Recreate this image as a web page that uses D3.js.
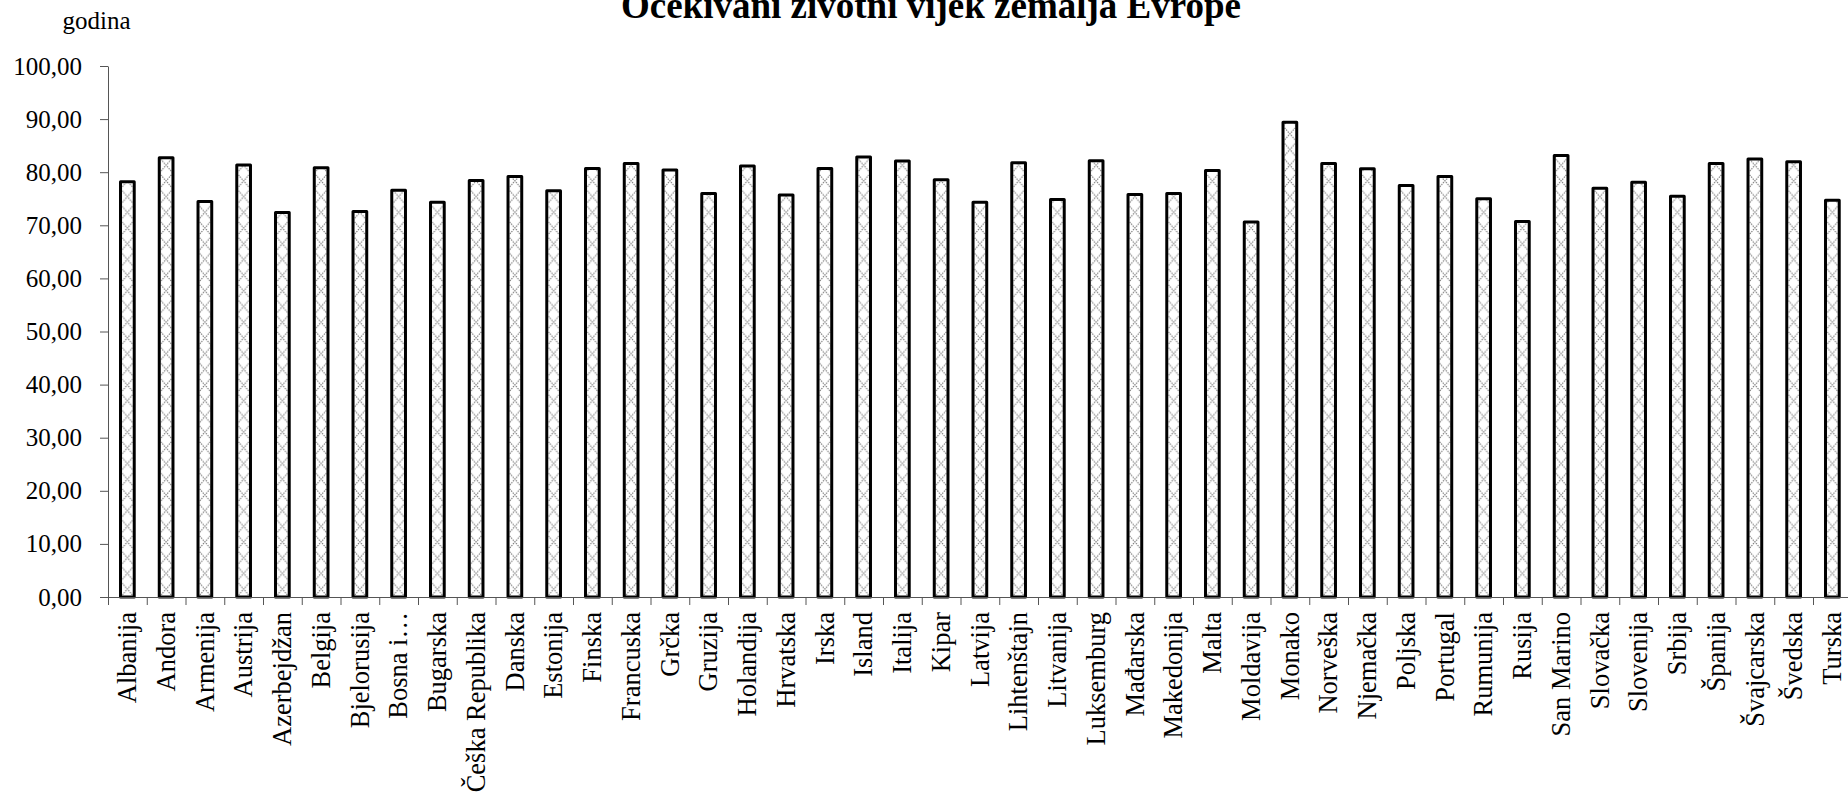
<!DOCTYPE html>
<html>
<head>
<meta charset="utf-8">
<script src="https://cdn.jsdelivr.net/npm/d3@7/dist/d3.min.js"></script>
<style>
  html, body { margin: 0; padding: 0; background: #fff; overflow: hidden; }
  svg { display: block; }
  svg text { font-family: "Liberation Serif", "Times New Roman", serif !important; fill: #000; }
</style>
</head>
<body>
<svg id="chart" width="1848" height="796" font-family="Liberation Serif, serif"></svg>
<script>
const categories = ["Albanija","Andora","Armenija","Austrija","Azerbejdžan","Belgija","Bjelorusija","Bosna i…","Bugarska","Češka Republika","Danska","Estonija","Finska","Francuska","Grčka","Gruzija","Holandija","Hrvatska","Irska","Island","Italija","Kipar","Latvija","Lihtenštajn","Litvanija","Luksemburg","Mađarska","Makedonija","Malta","Moldavija","Monako","Norveška","Njemačka","Poljska","Portugal","Rumunija","Rusija","San Marino","Slovačka","Slovenija","Srbija","Španija","Švajcarska","Švedska","Turska"];
const values = [78.2,82.7,74.5,81.35,72.4,80.85,72.6,76.6,74.35,78.45,79.2,76.5,80.7,81.65,80.4,76.0,81.15,75.7,80.7,82.85,82.1,78.6,74.35,81.8,74.85,82.15,75.8,76.0,80.3,70.6,89.4,81.65,80.65,77.5,79.2,75.0,70.7,83.15,77.0,78.1,75.45,81.65,82.5,81.95,74.7];
const yTicks = [0,10,20,30,40,50,60,70,80,90,100];
const title = "Očekivani životni vijek zemalja Evrope";
const yUnit = "godina";

const svg = d3.select("#chart");
const mLeft = 108, step = 38.75, mTop = 66, mBottom = 597;
const mRight = mLeft + step * categories.length;

const slot = d3.scaleBand().domain(categories).range([mLeft, mRight]).padding(0);
const x = d3.scaleBand().domain(categories).range([mLeft, mRight])
  .paddingInner(0.646).paddingOuter(0.323);
const y = d3.scaleLinear().domain([0, 100]).range([mBottom, mTop]);

// patterns, one per bar, aligned to the bar
const defs = svg.append("defs");
const bw = x.bandwidth(), ph = 15.7;
const pats = defs.selectAll("pattern").data(categories).join("pattern")
  .attr("id", (d, i) => "pat" + i)
  .attr("patternUnits", "userSpaceOnUse")
  .attr("x", d => x(d)).attr("y", mBottom)
  .attr("width", bw).attr("height", ph);
pats.append("rect").attr("width", bw).attr("height", ph).attr("fill", "#fff");
pats.append("path")
  .attr("d", `M0,0L${bw},${ph}M${bw},0L0,${ph}`)
  .attr("stroke", "#707070").attr("stroke-width", 1.1)
  .attr("stroke-dasharray", "1.3,1.1").attr("fill", "none");

// bars
svg.append("g").selectAll("rect").data(categories).join("rect")
  .attr("x", d => x(d))
  .attr("y", (d, i) => y(values[i]))
  .attr("width", bw)
  .attr("height", (d, i) => y(0) - y(values[i]))
  .attr("fill", (d, i) => `url(#pat${i})`)
  .attr("stroke", "#000").attr("stroke-width", 3)
  .attr("stroke-linejoin", "round");

// y axis
const yAxis = svg.append("g").attr("transform", `translate(${mLeft},0)`)
  .call(d3.axisLeft(y).tickValues(yTicks)
    .tickFormat(d => d.toFixed(2).replace(".", ","))
    .tickSizeInner(8).tickSizeOuter(0).tickPadding(18));
yAxis.attr("font-family", "Liberation Serif, serif").attr("font-size", 25);
yAxis.selectAll("path, line").attr("stroke", "#555");
yAxis.selectAll("text")
  .attr("font-family", "Liberation Serif, serif")
  .attr("font-size", 25).attr("fill", "#000");

// x axis line
const xg = svg.append("g");
xg.append("line").attr("x1", mLeft).attr("x2", mRight)
  .attr("y1", mBottom + 0.5).attr("y2", mBottom + 0.5).attr("stroke", "#555");
// boundary ticks
xg.selectAll("line.tk").data(categories).join("line").attr("class", "tk")
  .attr("x1", d => slot(d) + 0.5).attr("x2", d => slot(d) + 0.5)
  .attr("y1", mBottom).attr("y2", mBottom + 8).attr("stroke", "#555");

// category labels
xg.selectAll("text").data(categories).join("text")
  .attr("transform", d => `translate(${x(d) + bw / 2},612) rotate(-90)`)
  .attr("text-anchor", "end")
  .attr("dy", "0.33em")
  .attr("font-size", 26.5)
  .text(d => d);

// unit label
svg.append("text").attr("x", 96.5).attr("y", 29)
  .attr("text-anchor", "middle").attr("font-size", 25).text(yUnit);

// title
svg.append("text").attr("x", 931).attr("y", 18)
  .attr("text-anchor", "middle").attr("font-size", 37)
  .attr("font-weight", "bold").text(title);
</script>
</body>
</html>
